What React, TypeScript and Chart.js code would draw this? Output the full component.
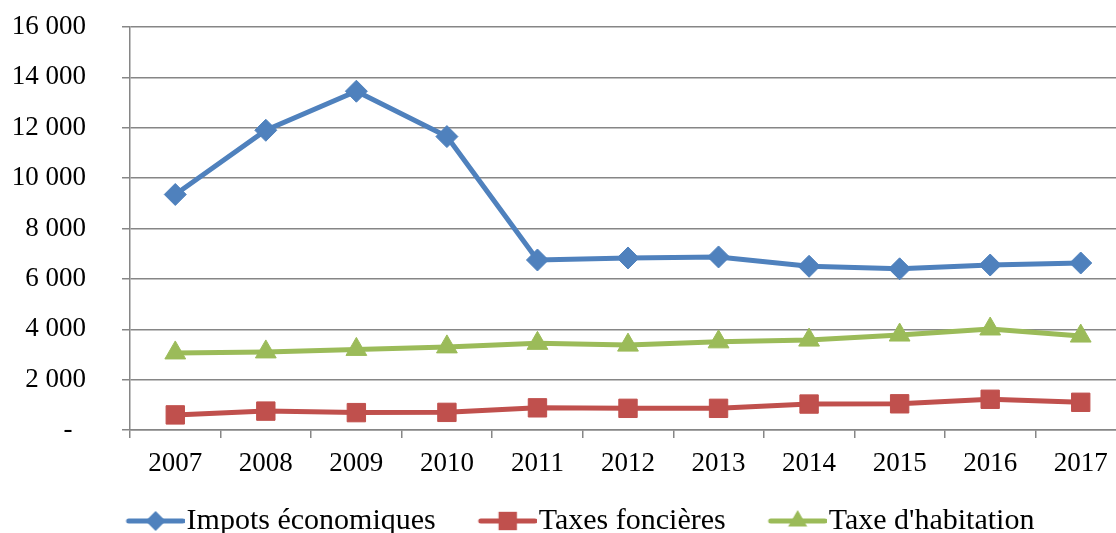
import { useEffect, useRef } from 'react';
import { Chart, registerables } from 'chart.js';

Chart.register(...registerables);

const years = ['2007', '2008', '2009', '2010', '2011', '2012', '2013', '2014', '2015', '2016', '2017'];
const impotsEconomiques = [9350, 11900, 13450, 11650, 6750, 6830, 6870, 6500, 6400, 6550, 6630];
const taxesFoncieres = [600, 750, 690, 700, 880, 860, 860, 1030, 1040, 1220, 1100];
const taxeHabitation = [3060, 3100, 3200, 3300, 3440, 3370, 3500, 3570, 3770, 4010, 3730];
const yTickValues = [0, 2000, 4000, 6000, 8000, 10000, 12000, 14000, 16000];

const BLUE = '#4F81BD';
const RED = '#C0504D';
const GREEN = '#9BBB59';
const FONT = "'Liberation Serif', 'Times New Roman', serif";

function formatTick(v: number): string {
  if (v === 0) return '-  ';
  return String(v).replace(/\B(?=(\d{3})+(?!\d))/g, ' ');
}

// Legend sample: wide transparent image with the line+marker drawn on its right part
function legendSample(color: string, style: string, radius: number): HTMLCanvasElement {
  const c = document.createElement('canvas');
  c.width = 104;
  c.height = 28;
  const ctx = c.getContext('2d')!;
  const x0 = 48, x1 = 102, y = 14;
  ctx.strokeStyle = color;
  ctx.lineWidth = 5;
  ctx.lineCap = 'round';
  ctx.beginPath();
  ctx.moveTo(x0, y);
  ctx.lineTo(x1, y);
  ctx.stroke();
  ctx.fillStyle = color;
  ctx.beginPath();
  const x = (x0 + x1) / 2;
  if (style === 'rectRot') {
    ctx.moveTo(x - radius, y);
    ctx.lineTo(x, y - radius);
    ctx.lineTo(x + radius, y);
    ctx.lineTo(x, y + radius);
  } else if (style === 'rect') {
    const s = radius * Math.SQRT1_2;
    ctx.rect(x - s, y - s, 2 * s, 2 * s);
  } else {
    const r = radius;
    ctx.moveTo(x, y - r);
    ctx.lineTo(x + r * Math.sin((2 * Math.PI) / 3), y + r * 0.5);
    ctx.lineTo(x - r * Math.sin((2 * Math.PI) / 3), y + r * 0.5);
  }
  ctx.closePath();
  ctx.fill();
  return c;
}

export default function App() {
  const ref = useRef<HTMLCanvasElement | null>(null);

  useEffect(() => {
    if (!ref.current) return;
    const samples = [
      legendSample(BLUE, 'rectRot', 10),
      legendSample(RED, 'rect', 13),
      legendSample(GREEN, 'triangle', 11),
    ];
    const chart = new Chart(ref.current, {
      type: 'line',
      data: {
        labels: years,
        datasets: [
          {
            label: 'Impots économiques',
            data: impotsEconomiques,
            borderColor: BLUE,
            backgroundColor: BLUE,
            borderWidth: 5,
            pointStyle: 'rectRot',
            pointRadius: 11,
            pointBorderWidth: 1,
            tension: 0,
          },
          {
            label: 'Taxes foncières',
            data: taxesFoncieres,
            borderColor: RED,
            backgroundColor: RED,
            borderWidth: 5,
            pointStyle: 'rect',
            pointRadius: 13,
            pointBorderWidth: 1,
            tension: 0,
          },
          {
            label: "Taxe d'habitation",
            data: taxeHabitation,
            borderColor: GREEN,
            backgroundColor: GREEN,
            borderWidth: 5,
            pointStyle: 'triangle',
            pointRadius: 12,
            pointBorderWidth: 1,
            tension: 0,
          },
        ],
      },
      options: {
        responsive: false,
        animation: false,
        devicePixelRatio: 1,
        layout: { padding: { left: 0, right: 12, top: 27, bottom: 0 } },
        plugins: {
          tooltip: { enabled: false },
          legend: {
            position: 'bottom',
            labels: {
              usePointStyle: true,
              pointStyleWidth: 78,
              padding: 10,
              color: '#000',
              font: { family: FONT, size: 30 },
              generateLabels: (chart: any) =>
                chart.data.datasets.map((ds: any, i: number) => ({
                  text: ds.label,
                  pointStyle: samples[i],
                  fillStyle: ds.borderColor,
                  strokeStyle: ds.borderColor,
                  lineWidth: 0,
                  hidden: false,
                  datasetIndex: i,
                  fontColor: '#000',
                })),
            },
          },
        },
        scales: {
          x: {
            type: 'category',
            offset: true,
            grid: {
              offset: true,
              drawOnChartArea: false,
              drawTicks: true,
              tickLength: 8,
              color: '#868686',
              lineWidth: 1.5,
            },
            border: { color: '#868686', width: 1.5 },
            ticks: {
              color: '#000',
              padding: 10,
              font: { family: FONT, size: 27 },
              maxRotation: 0,
              autoSkip: false,
            },
            afterFit: (scale: any) => {
              scale.height = 66;
            },
          },
          y: {
            min: 0,
            max: 16000,
            afterBuildTicks: (scale: any) => {
              scale.ticks = yTickValues.map((v) => ({ value: v }));
            },
            grid: {
              color: '#868686',
              lineWidth: 1.5,
              tickLength: 8,
            },
            border: { color: '#868686', width: 1.5 },
            ticks: {
              color: '#000',
              padding: 36,
              font: { family: FONT, size: 27 },
              callback: (v: any) => formatTick(Number(v)),
            },
            afterFit: (scale: any) => {
              scale.width = 130;
              scale.paddingTop = 0;
              scale.paddingBottom = 0;
            },
          },
        },
      },
    });
    return () => chart.destroy();
  }, []);

  return (
    <div style={{ position: 'fixed', left: 0, top: 0, width: 1116, height: 533, overflow: 'hidden', background: '#fff' }}>
      <canvas ref={ref} width={1140} height={546} style={{ display: 'block' }} />
    </div>
  );
}
